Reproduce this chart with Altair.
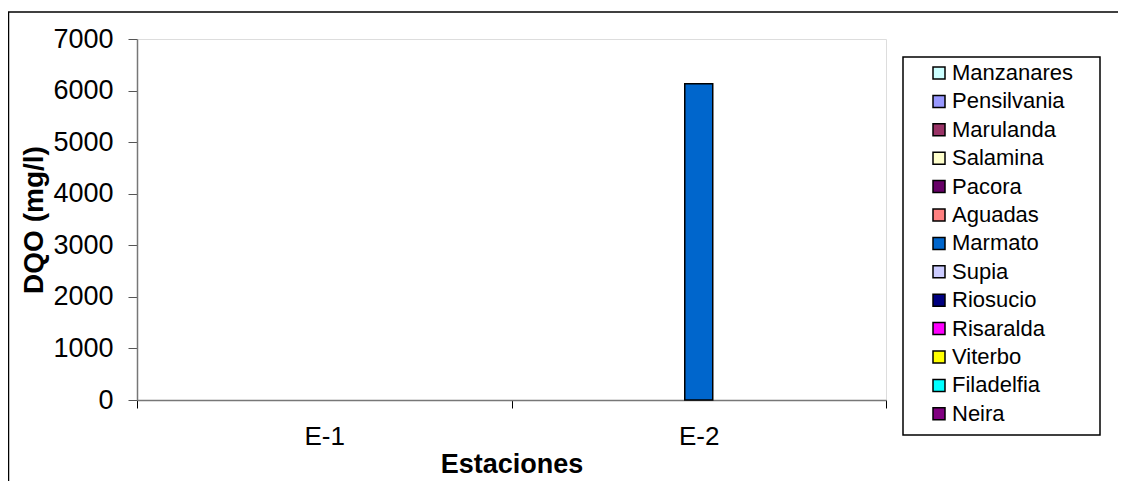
import altair as alt
import pandas as pd

stations = ["E-1", "E-2"]
series = ["Manzanares", "Pensilvania", "Marulanda", "Salamina", "Pacora", "Aguadas",
          "Marmato", "Supia", "Riosucio", "Risaralda", "Viterbo", "Filadelfia", "Neira"]
colors = ["#CCFFFF", "#9999FF", "#993366", "#FFFFCC", "#660066", "#FF8080",
          "#0066CC", "#CCCCFF", "#000080", "#FF00FF", "#FFFF00", "#00FFFF", "#800080"]
# DQO (mg/l) per series for E-1 and E-2 (None = no bar shown)
values = {
    "Manzanares": [None, None],
    "Pensilvania": [None, None],
    "Marulanda": [None, None],
    "Salamina": [None, None],
    "Pacora": [None, None],
    "Aguadas": [None, None],
    "Marmato": [None, 6130],
    "Supia": [None, None],
    "Riosucio": [None, None],
    "Risaralda": [None, None],
    "Viterbo": [None, None],
    "Filadelfia": [None, None],
    "Neira": [None, None],
}
y_ticks = [0, 1000, 2000, 3000, 4000, 5000, 6000, 7000]

rows = []
for s in series:
    for st, v in zip(stations, values[s]):
        rows.append({"Estacion": st, "Serie": s, "DQO": v})
df = pd.DataFrame(rows)

FONT = "Liberation Sans"
W, H = 749, 361

bars = alt.Chart(df).mark_bar(stroke="black", strokeWidth=1.5, opacity=1).encode(
    x=alt.X("Estacion:N", sort=stations,
            scale=alt.Scale(paddingInner=0, paddingOuter=0),
            axis=alt.Axis(title="Estaciones", labelAngle=0, labelFontSize=26,
                          labelFont=FONT, labelColor="black", labelPadding=15,
                          tickBand="extent", tickSize=8, tickColor="black",
                          domainColor="#777777", domainWidth=1.5,
                          titleFont=FONT, titleFontSize=27, titleFontWeight="bold",
                          titleColor="black", titlePadding=2)),
    xOffset=alt.XOffset("Serie:N", sort=series,
                        scale=alt.Scale(domain=series, paddingInner=0, paddingOuter=0.19)),
    y=alt.Y("DQO:Q", scale=alt.Scale(domain=[0, 7000], nice=False),
            axis=alt.Axis(title="DQO (mg/l)", values=y_ticks, grid=False, format="d",
                          labelFontSize=27, labelFont=FONT, labelColor="black",
                          labelPadding=15, tickSize=9, tickColor="#555555",
                          domainColor="#777777", domainWidth=1.5,
                          titleFont=FONT, titleFontSize=28, titleFontWeight="bold",
                          titleColor="black", titleX=-95, titleBaseline="alphabetic")),
    color=alt.Color("Serie:N", sort=series,
                    scale=alt.Scale(domain=series, range=colors),
                    legend=alt.Legend(orient="none", legendX=766, legendY=18, title=None,
                                      symbolType="square", symbolSize=144,
                                      symbolStrokeColor="black", symbolStrokeWidth=1.5,
                                      symbolOpacity=1,
                                      labelFontSize=22, labelFont=FONT, labelColor="black",
                                      rowPadding=6.4, padding=5,
                                      symbolOffset=20, labelOffset=2)),
)

frame_src = alt.Data(values=[{"k": 1}])
top_rule = alt.Chart(frame_src).mark_rule(color="black", strokeWidth=1.5).encode(
    x=alt.value(-129), x2=alt.value(W + 240), y=alt.value(-27))
left_rule = alt.Chart(frame_src).mark_rule(color="black", strokeWidth=1.5).encode(
    x=alt.value(-128.5), y=alt.value(-27), y2=alt.value(H + 90))
legend_box = alt.Chart(frame_src).mark_rect(fill="white", stroke="black", strokeWidth=1.5).encode(
    x=alt.value(766), x2=alt.value(963), y=alt.value(18), y2=alt.value(396))

chart = alt.layer(legend_box, bars, top_rule, left_rule).properties(
    width=W, height=H,
    autosize=alt.AutoSizeParams(type="none"),
    padding={"left": 129, "top": 31, "right": 232, "bottom": 81},
).configure_view(stroke=None).configure(background="white")

chart.save("out.html", embed_options={"renderer": "svg", "actions": False})
